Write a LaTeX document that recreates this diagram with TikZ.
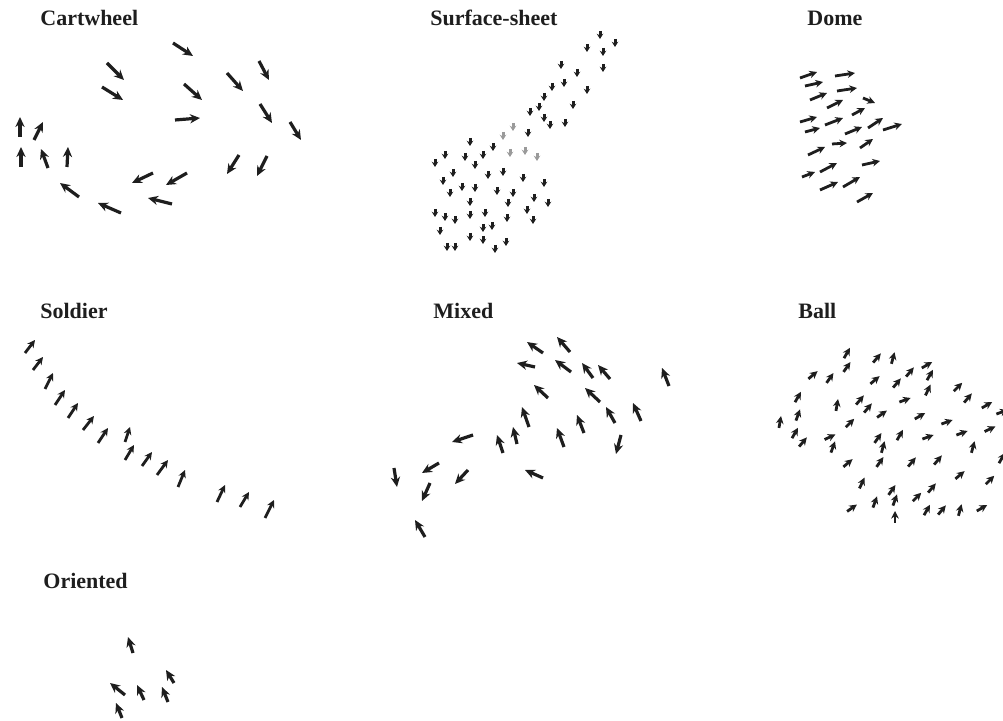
\documentclass[tikz,border=0pt]{standalone}
\usepackage{fontspec}
\setmainfont{Liberation Serif}
\usetikzlibrary{arrows.meta}
\definecolor{ink}{HTML}{1E1E1E}
\definecolor{faded}{HTML}{9A9A9A}

\begin{document}
\begin{tikzpicture}[
  x=0.5pt, y=-0.5pt,
  >={Stealth[length=5pt, width=4.6pt]},
  vec/.style={draw=ink, line width=1.6pt, ->},
  vecsmall/.style={draw=ink, line width=1.4pt, -{Stealth[length=3.8pt, width=3.8pt]}},
  tick/.style={draw=ink, line width=1.5pt, -{Stealth[length=2.6pt, width=3.2pt]}},
  title/.style={font=\fontsize{11}{13}\selectfont\bfseries, text=ink,
    inner sep=0pt, anchor=west},
]

% Page frame
\useasboundingbox (0,0) rectangle (1003,721);
\clip (0,0) rectangle (1003,721);

% Titles
\node[title] (tcart) at (40,18) {Cartwheel};
\node[title] (tsheet) at (430,18) {Surface-sheet};
\node[title] (tdome) at (807,18) {Dome};
\node[title] (tsold) at (40,311) {Soldier};
\node[title] (tmix) at (433,311) {Mixed};
\node[title] (tball) at (798,311) {Ball};
\node[title] (torient) at (43,581) {Oriented};

% === Cartwheel ===
\foreach \ax/\ay/\bx/\by in {173/43/193/56, 107/63/124/80, 102/87/123/100,
    184/84/202/100, 227/73/243/91, 259/61/269/80, 175/120/200/118,
    260/104/272/123, 290/122/301/140, 239/155/227/174, 267/156/257/176,
    187/173/166/185, 153/173/132/183, 172/204/148/198, 121/213/98/203,
    79/197/60/183, 20/137/20/117, 34/140/43/122, 21/167/21/147,
    48/168/41/149, 67/167/68/147}
  \draw[vec] (\ax,\ay) -- (\bx,\by);

% === Surface-sheet ===
\foreach \x/\y in {600/35, 615/43, 587/48, 603/52, 603/68, 561/65, 577/73,
    564/83, 552/87, 587/90, 544/97, 573/105, 530/112, 539/107, 544/118,
    550/125, 565/123, 528/133, 470/142, 493/147, 445/155, 435/163, 465/157,
    483/155, 475/165, 453/173, 488/175, 503/172, 523/178, 544/183, 443/181,
    462/187, 475/188, 497/191, 513/193, 450/193, 470/202, 508/203, 534/198,
    548/203, 435/213, 445/217, 455/220, 470/215, 485/213, 507/218, 527/210,
    533/220, 483/228, 492/226, 440/231, 470/237, 483/240, 506/242, 447/247,
    455/247, 495/249}
  \draw[tick] (\x,{\y-4}) -- (\x,{\y+4});
\foreach \x/\y in {513/127, 503/136, 510/153, 525/151, 537/157}
  \draw[tick, draw=faded] (\x,{\y-4}) -- (\x,{\y+4});

% === Dome ===
\foreach \ax/\ay/\bx/\by in {800/78/817/72, 835/76/855/73, 805/86/823/82,
    837/91/857/88, 810/100/827/93, 827/108/843/100, 863/98/875/103,
    800/122/817/117, 805/132/820/128, 825/125/843/118, 852/115/865/108,
    845/134/862/127, 868/128/883/118, 883/130/902/124, 832/144/847/143,
    808/155/825/147, 860/148/873/139, 802/177/815/172, 820/172/837/163,
    862/165/880/161, 820/190/838/182, 843/187/860/177, 857/202/873/193}
  \draw[vecsmall] (\ax,\ay) -- (\bx,\by);

% === Soldier ===
\foreach \ax/\ay/\bx/\by in {25/353/35/340, 33/370/43/357, 45/389/53/373,
    55/405/65/390, 68/418/78/403, 83/430/94/416, 98/443/108/428,
    125/442/130/427, 125/460/134/445, 142/466/152/452, 157/475/168/460,
    178/487/185/470, 217/502/225/485, 240/507/249/492, 265/518/274/500}
  \draw[vecsmall] (\ax,\ay) -- (\bx,\by);

% === Mixed ===
\foreach \ax/\ay/\bx/\by in {543/353/527/342, 570/352/557/337,
    535/367/517/363, 571/372/555/360, 593/378/582/363, 610/379/598/365,
    669/386/662/368, 548/398/534/385, 600/402/585/388, 529/427/522/407,
    615/423/606/407, 641/421/633/403, 584/433/577/415, 517/444/513/427,
    503/453/497/435, 564/447/557/428, 621/435/616/454, 473/435/452/442,
    439/463/422/473, 468/470/455/484, 394/468/397/487, 430/483/422/501,
    543/478/525/470, 425/537/415/520}
  \draw[vec] (\ax,\ay) -- (\bx,\by);

% === Ball ===
\foreach \x/\y/\a in {847/353/60, 847/367/55, 877/358/50, 893/358/75,
    927/365/30, 813/375/40, 830/378/55, 875/380/40, 897/383/50, 910/372/50,
    930/375/60, 958/387/45, 798/397/60, 837/405/80, 860/400/50, 905/400/20,
    928/390/65, 968/398/50, 987/405/30, 1002/412/20, 780/422/80, 798/415/70,
    850/423/45, 868/408/50, 882/414/35, 920/416/30, 947/422/20, 962/433/20,
    990/429/25, 795/433/60, 803/442/50, 830/437/25, 833/447/70, 878/438/55,
    883/447/75, 900/435/60, 928/437/20, 973/447/75, 1002/458/60, 848/463/40,
    880/462/55, 912/462/50, 938/460/50, 960/475/40, 990/480/45, 862/483/65,
    892/490/55, 917/497/45, 932/488/50, 895/500/70, 852/508/35, 875/502/70,
    895/517/90, 927/510/60, 942/510/50, 960/510/75, 982/508/30}
  \draw[vecsmall] ({\x-6*cos(\a)},{\y+6*sin(\a)}) -- ({\x+6*cos(\a)},{\y-6*sin(\a)});

% === Oriented ===
\foreach \ax/\ay/\bx/\by in {133/653/128/637, 125/695/110/683,
    144/700/137/685, 168/702/162/687, 174/683/166/670, 122/718/116/703}
  \draw[vec] (\ax,\ay) -- (\bx,\by);

\end{tikzpicture}
\end{document}
